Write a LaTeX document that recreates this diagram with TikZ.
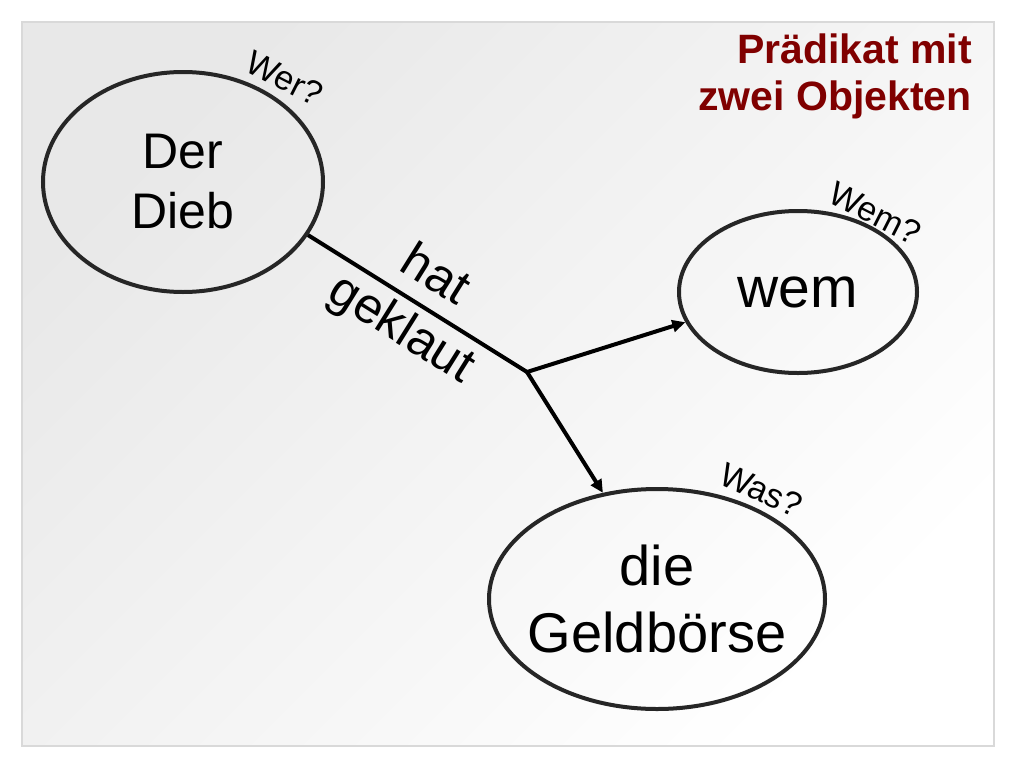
\documentclass[tikz,border=0pt]{standalone}
\usepackage{fontspec}
\setmainfont{Liberation Sans}
\usetikzlibrary{shapes.geometric, arrows.meta}
\definecolor{titlered}{RGB}{128,0,0}
\definecolor{framegray}{RGB}{217,217,217}
\definecolor{slidegray}{RGB}{232,232,232}

\begin{document}
\begin{tikzpicture}[x=1pt, y=-1pt,
  obj/.style={ellipse, draw=black!85, line width=4pt, inner sep=-30pt, align=center},
  quest/.style={font=\fontsize{34}{34}\selectfont, inner sep=0pt},
  >={Triangle[length=13pt, width=12pt]}]
  \useasboundingbox (0,0) rectangle (1024,768);
  \shade[top color=slidegray, bottom color=white, shading angle=45] (22,22) rectangle (994,746);
  \draw[framegray, line width=2pt] (22,22) rectangle (994,746);

  \node[anchor=north east, align=right, inner sep=0pt, text=titlered, font=\bfseries\fontsize{41}{47}\selectfont] (title) at (972,34) {Prädikat mit\\zwei Objekten};

  \node[obj, minimum width=280pt, minimum height=220pt, font=\fontsize{50}{60}\selectfont] (dieb) at (183,182) {Der\\Dieb};
  \node[obj, minimum width=238pt, minimum height=162pt, font=\fontsize{57}{60}\selectfont] (wem) at (798,292) {wem};
  \node[obj, minimum width=336pt, minimum height=220pt, font=\fontsize{56}{67}\selectfont] (boerse) at (657,599) {die\\Geldbörse};

  \node[quest, rotate=-27] (wer) at (285,78) {Wer?};
  \node[quest, rotate=-27] (wemq) at (875,213) {Wem?};
  \node[quest, rotate=-24] (was) at (761,490) {Was?};

  \coordinate (j) at (527,372);
  \draw[line width=4pt] (dieb.-23) -- node[sloped, align=center, font=\fontsize{50}{63}\selectfont] {hat\\geklaut} (j);
  \path (j) edge[->, line width=4pt] (wem.195);
  \path (j) edge[->, line width=4pt] (boerse.117);
\end{tikzpicture}
\end{document}
